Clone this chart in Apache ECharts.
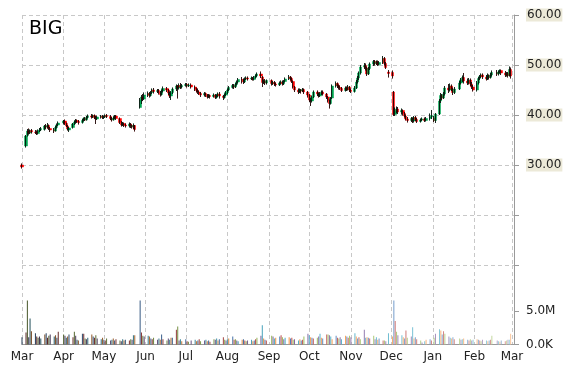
<!DOCTYPE html>
<html><head><meta charset="utf-8">
<script src="https://cdn.jsdelivr.net/npm/echarts@6/dist/echarts.min.js"></script>
<style>html,body{margin:0;padding:0;background:#fff}#c{width:570px;height:370px}</style>
</head><body><div id="c"></div>
<script>
const ticker = 'BIG';
const monthTicks = ['2013-03-01','2013-04-01','2013-05-01','2013-06-01','2013-07-01','2013-08-01','2013-09-01','2013-10-01','2013-11-01','2013-12-01','2014-01-01','2014-02-01','2014-03-01'];
const monthNames = ['Jan','Feb','Mar','Apr','May','Jun','Jul','Aug','Sep','Oct','Nov','Dec'];
const priceTicks = [30, 40, 50, 60];
const volumeTicks = [0, 5000000];
const holidays = ['2013-03-29','2013-05-27','2013-07-04','2013-09-02','2013-11-28','2013-12-25','2014-01-01','2014-01-20','2014-02-17'];

// [open, close, low, high]
const ohlcMar13 = [[30.0,29.6,29.3,30.3],[33.8,35.8,33.5,36.0],[35.9,36.8,35.7,37.2],[36.8,36.4,36.1,37.3],[36.4,36.9,36.2,37.1],[36.9,36.6,36.3,37.2],[36.6,36.5,36.2,37.0],[36.5,36.3,36.0,36.9],[36.3,36.8,36.1,37.1],[36.8,37.0,36.6,37.4],[37.0,37.3,36.8,37.6],[37.1,37.8,36.9,38.0],[37.8,37.6,37.2,38.2],[37.6,37.9,37.3,38.4],[37.9,37.3,37.0,38.1],[37.3,37.0,36.6,37.6],[37.0,36.8,36.4,37.4],[36.8,37.5,36.7,37.8],[37.5,38.0,37.3,38.3],[38.0,38.4,37.8,38.7]];
const ohlcApr13 = [[38.4,38.8,38.1,39.0],[38.8,38.3,38.0,39.1],[38.3,37.8,37.6,38.5],[37.8,37.2,36.9,38.0],[37.0,37.4,36.6,37.6],[37.5,38.2,37.3,38.4],[38.2,38.6,38.0,38.9],[38.6,38.9,38.3,39.2],[38.9,38.7,38.4,39.1],[38.7,38.5,38.1,39.0],[38.5,38.9,38.3,39.2],[38.9,39.3,38.7,39.5],[39.3,39.0,38.8,39.6],[39.0,39.5,38.9,39.8],[39.5,39.8,39.3,40.1],[39.8,39.6,39.3,40.2],[39.6,39.9,39.4,40.1],[39.9,39.5,39.2,40.1],[39.5,39.2,38.2,39.8],[39.2,39.6,39.0,39.9],[39.6,39.7,39.3,40.0],[39.7,39.5,39.2,40.0]];
const ohlcMay13 = [[39.5,39.6,39.2,39.9],[39.6,39.9,39.4,40.1],[39.9,39.7,39.4,40.2],[39.7,39.3,39.0,40.0],[39.3,39.0,38.7,39.6],[39.0,39.4,38.9,39.7],[39.4,39.8,39.2,40.0],[39.8,39.3,39.0,40.0],[39.3,38.5,38.2,39.5],[38.5,38.0,37.7,38.8],[38.0,38.3,37.8,38.6],[38.3,38.0,37.6,38.5],[38.0,37.8,37.5,38.3],[37.8,38.2,37.5,38.5],[38.2,37.9,37.4,38.4],[37.9,37.6,37.3,38.1],[37.6,37.9,37.2,38.3],[37.9,37.1,36.7,38.0],[41.5,43.0,41.3,43.4],[42.8,43.6,42.2,44.0],[43.6,43.2,42.8,44.2],[43.2,44.0,43.0,44.5]];
const ohlcJun13 = [[44.0,44.3,43.6,44.7],[44.3,43.9,43.5,44.6],[43.9,44.5,43.7,44.8],[44.5,45.0,44.2,45.3],[45.0,44.7,44.3,45.4],[44.7,44.9,44.4,45.2],[44.9,44.5,44.1,45.2],[44.5,44.1,43.7,44.8],[44.1,44.8,43.9,45.1],[44.8,45.3,44.5,45.7],[45.3,45.0,44.6,45.6],[45.0,44.4,44.0,45.2],[44.4,43.8,43.4,44.7],[43.8,44.5,43.0,44.8],[44.5,45.2,44.2,45.5],[45.2,45.8,44.8,46.1],[45.8,45.4,43.3,46.0],[45.4,45.9,45.1,46.3],[45.9,45.6,45.2,46.4],[45.6,45.9,45.3,46.2]];
const ohlcJul13 = [[45.9,46.1,45.7,46.4],[46.1,45.8,45.5,46.4],[45.8,46.0,45.6,46.3],[46.0,45.6,45.3,46.3],[45.6,45.2,44.8,45.9],[45.2,44.9,44.5,45.5],[44.9,44.6,44.2,45.3],[44.6,44.3,44.0,44.9],[44.3,44.0,43.6,44.6],[44.0,44.3,43.7,44.6],[44.3,44.0,43.6,44.5],[44.0,43.6,43.3,44.2],[43.6,43.9,43.4,44.2],[43.9,43.7,43.3,44.1],[43.7,44.0,43.5,44.3],[44.0,43.5,43.2,44.2],[43.5,43.8,43.3,44.1],[43.8,44.2,43.6,44.5],[44.2,43.8,43.3,44.6],[43.8,43.5,43.0,44.0],[43.5,44.0,43.3,44.3],[44.0,44.5,43.8,44.8]];
const ohlcAug13 = [[44.5,45.0,44.2,45.3],[45.0,45.5,44.8,45.8],[45.5,45.9,45.3,46.2],[45.9,45.6,45.2,46.2],[45.6,46.1,45.4,46.4],[46.1,46.6,45.9,46.9],[46.6,47.1,46.3,47.4],[47.1,47.0,46.3,47.6],[47.0,46.6,46.2,47.3],[46.6,47.2,46.4,47.5],[47.2,47.4,47.0,47.7],[47.4,47.2,46.9,47.7],[47.2,47.4,47.0,47.7],[47.4,47.1,46.9,47.6],[47.1,47.5,46.9,47.8],[47.5,47.8,47.3,48.1],[47.8,48.2,47.6,48.5],[48.2,47.8,47.4,48.7],[47.6,46.5,45.6,47.8],[46.5,46.8,46.2,47.1],[46.8,46.4,46.0,47.2],[46.4,46.9,46.1,47.1]];
const ohlcSep13 = [[46.9,46.3,45.9,47.1],[46.3,46.5,46.0,46.8],[46.5,46.2,45.8,46.8],[46.2,46.0,45.7,46.5],[46.0,46.4,45.8,46.7],[46.4,46.6,46.1,46.9],[46.6,46.2,45.9,46.9],[46.2,46.7,46.0,47.0],[46.7,47.2,46.5,47.5],[47.2,47.6,47.0,48.0],[47.6,47.3,46.9,47.8],[47.3,46.7,46.4,47.5],[46.7,45.6,45.3,46.9],[45.6,45.0,44.6,45.8],[45.0,44.6,44.2,45.3],[44.6,45.0,44.4,45.3],[45.0,44.8,44.3,45.2],[44.8,45.1,44.6,45.4],[45.1,44.6,44.2,45.3],[44.6,44.0,43.5,44.8]];
const ohlcOct13 = [[44.0,43.0,42.6,44.2],[43.0,42.8,41.8,43.4],[42.8,43.6,42.5,43.9],[43.6,44.6,43.4,44.9],[44.6,44.2,43.8,44.9],[44.2,43.8,43.5,44.5],[43.8,44.3,43.6,44.6],[44.3,44.6,44.0,44.9],[44.6,44.2,43.9,44.9],[44.2,43.6,43.2,44.4],[43.6,42.9,42.5,43.8],[42.9,42.3,41.3,43.1],[42.3,43.4,42.1,43.6],[43.4,45.8,43.2,46.1],[45.8,46.3,45.5,46.7],[46.3,45.9,45.4,46.5],[45.9,45.5,45.1,46.1],[45.5,45.3,45.0,45.9],[45.3,44.9,44.6,45.6],[44.9,45.4,44.7,45.7],[45.4,45.1,44.8,45.7],[45.1,45.6,44.9,46.0],[45.6,45.0,44.6,45.8]];
const ohlcNov13 = [[45.0,44.7,44.4,45.3],[44.7,45.4,44.5,45.8],[45.4,46.6,45.2,47.0],[46.6,47.4,46.3,47.8],[47.4,48.4,47.0,48.7],[48.4,49.6,48.1,50.0],[49.6,49.9,49.2,50.4],[49.9,49.4,48.9,50.3],[49.4,48.2,47.8,49.7],[48.2,49.3,48.0,49.6],[49.3,50.2,49.0,50.5],[50.2,50.7,49.8,51.0],[50.7,50.3,49.9,51.0],[50.3,50.6,50.0,50.9],[50.6,50.1,49.8,50.9],[50.1,50.5,49.9,50.8],[50.5,51.3,50.2,51.8],[51.3,50.3,49.9,51.6],[50.3,49.5,49.2,50.6],[48.6,48.3,47.5,49.0]];
const ohlcDec13 = [[48.5,47.8,47.3,48.9],[44.6,40.1,39.8,44.8],[40.1,40.9,39.8,41.5],[40.9,41.2,40.3,41.7],[41.2,40.6,40.2,41.6],[40.6,40.9,40.1,41.3],[40.9,40.3,39.9,41.1],[40.3,39.8,39.5,40.6],[39.8,39.2,38.9,40.1],[39.2,38.9,38.5,39.6],[38.9,39.3,38.6,39.6],[39.3,38.8,38.4,39.5],[38.8,39.5,38.5,39.8],[39.5,39.1,38.8,39.8],[39.1,38.7,38.4,39.4],[38.7,39.0,38.5,39.3],[39.0,39.2,38.8,39.5],[39.2,38.9,38.6,39.5],[38.9,39.3,38.7,39.6],[39.3,39.6,38.9,40.3],[39.6,39.9,39.2,41.0]];
const ohlcJan14 = [[39.4,38.9,38.6,39.8],[38.9,40.2,38.4,40.4],[40.2,42.8,40.0,43.2],[42.8,43.9,42.4,44.4],[43.9,43.4,43.0,44.2],[43.4,44.2,43.2,44.6],[44.2,45.4,43.9,45.8],[45.4,45.0,44.4,46.2],[45.0,45.8,44.7,46.3],[45.8,45.2,44.8,46.1],[45.2,44.5,44.0,45.5],[44.5,45.2,44.2,45.6],[45.2,46.4,45.0,46.8],[46.4,47.0,46.1,47.4],[47.0,47.5,46.6,47.9],[47.5,46.8,46.3,48.4],[46.8,46.4,46.0,47.3],[46.4,47.0,46.1,47.4],[47.0,46.2,45.8,47.3],[46.2,45.6,45.2,46.6],[45.6,45.0,44.7,46.0]];
const ohlcFeb14 = [[45.0,46.4,44.7,46.8],[46.4,47.3,46.1,47.6],[47.3,47.7,47.0,48.0],[47.7,48.0,47.4,48.3],[48.0,47.6,47.2,48.3],[47.6,47.2,46.9,48.0],[47.2,47.9,47.0,48.3],[47.9,47.5,47.1,48.1],[47.5,48.0,47.3,48.4],[48.0,48.5,47.7,48.9],[48.5,48.2,47.8,49.0],[48.2,48.6,47.9,48.9],[48.6,48.9,48.3,49.1],[48.9,48.4,48.0,49.1],[48.4,48.0,47.6,48.8],[48.0,48.3,47.7,48.6],[48.3,47.9,47.5,48.6],[47.9,49.1,47.7,49.7],[49.1,47.8,47.3,49.5]];

// volume, millions of shares
const volMar13 = [1.1,1.8,6.6,1.1,3.9,2.0,1.7,1.2,1.0,1.2,0.9,1.5,1.7,1.0,1.3,1.5,1.2,1.4,1.0,1.9];
const volApr13 = [1.5,1.3,1.0,1.2,1.5,1.1,1.9,1.3,0.7,0.6,1.6,1.6,0.9,0.8,1.0,1.5,1.2,1.0,1.4,0.9,0.8,1.0];
const volMay13 = [0.7,0.6,0.9,0.6,0.7,0.9,0.6,0.8,0.6,0.5,0.8,0.6,0.7,0.6,0.8,0.7,1.4,1.4,6.6,1.8,1.3,1.2];
const volJun13 = [1.3,1.2,0.9,0.8,1.0,0.7,0.9,0.7,1.5,0.8,0.6,0.9,0.7,1.0,1.0,2.2,2.7,0.6,0.8,0.5];
const volJul13 = [0.8,0.5,0.4,0.6,0.7,0.5,0.6,0.8,0.5,0.6,0.7,0.5,0.6,0.4,0.8,0.7,0.9,0.6,0.8,1.1,0.7,0.6];
const volAug13 = [0.8,0.9,1.2,0.7,0.8,0.6,0.5,0.7,0.8,0.6,0.5,0.6,0.7,0.5,0.6,0.8,1.0,1.3,2.9,0.9,0.7,0.6];
const volSep13 = [1.3,1.2,0.9,1.0,1.2,1.4,1.1,0.8,1.0,1.1,0.9,1.0,0.7,0.8,0.6,0.8,0.6,0.7,1.2,1.6];
const volOct13 = [1.4,1.1,1.0,0.9,1.0,1.2,1.6,1.0,0.9,1.5,1.5,1.4,1.2,0.8,1.3,1.0,0.9,1.1,0.8,1.3,1.2,1.0,1.3];
const volNov13 = [1.1,1.7,1.2,0.9,1.1,0.8,2.2,1.0,1.1,1.0,0.9,1.3,0.8,1.1,0.7,0.9,0.6,0.6,0.5,1.7];
const volDec13 = [1.2,6.6,3.5,1.9,1.4,1.4,1.1,0.9,2.1,1.0,1.2,2.6,0.9,1.1,0.8,0.6,0.3,0.5,0.7,0.8,0.6];
const volJan14 = [1.0,1.6,2.3,2.1,1.5,2.0,1.6,1.2,1.0,0.9,1.1,0.8,0.9,0.7,0.8,0.9,0.7,0.6,0.8,0.6,0.7];
const volFeb14 = [0.8,0.7,0.6,0.5,0.7,0.6,0.5,0.6,0.7,1.3,0.6,0.5,0.4,0.6,0.5,0.6,0.7,0.7,1.6];

const volumePalette = ['#4F81BD','#C0504D','#9BBB59','#8064A2','#4BACC6','#F79646'];

function ymd(d){ return d.getFullYear()+'-'+String(d.getMonth()+1).padStart(2,'0')+'-'+String(d.getDate()).padStart(2,'0'); }
function parseDay(s){ const p=s.split('-').map(Number); return new Date(p[0],p[1]-1,p[2]).getTime(); }
function tradingDays(from, to){
  const out=[]; const d=new Date(parseDay(from)); const end=parseDay(to);
  while(d.getTime()<=end){ const w=d.getDay(); if(w!==0&&w!==6&&holidays.indexOf(ymd(d))<0) out.push(d.getTime()); d.setDate(d.getDate()+1); }
  return out;
}
function shade(hex, f){
  let r=parseInt(hex.slice(1,3),16), g=parseInt(hex.slice(3,5),16), b=parseInt(hex.slice(5,7),16);
  if(f<0){ r=r*(1+f); g=g*(1+f); b=b*(1+f); } else { r=r+(255-r)*f; g=g+(255-g)*f; b=b+(255-b)*f; }
  return 'rgb('+Math.round(r)+','+Math.round(g)+','+Math.round(b)+')';
}

const days = tradingDays('2013-03-01','2014-02-28');
const ohlc = [].concat(ohlcMar13,ohlcApr13,ohlcMay13,ohlcJun13,ohlcJul13,ohlcAug13,ohlcSep13,ohlcOct13,ohlcNov13,ohlcDec13,ohlcJan14,ohlcFeb14);
const vols = [].concat(volMar13,volApr13,volMay13,volJun13,volJul13,volAug13,volSep13,volOct13,volNov13,volDec13,volJan14,volFeb14);

const candleData = days.map((t,i)=>[t].concat(ohlc[i]));
const volData = days.map((t,i)=>({
  value:[t, vols[i]*1e6],
  itemStyle:{color: shade(volumePalette[i%6], -0.55 + 1.0*i/(days.length-1))}
}));

const xMin = parseDay('2013-03-01');
const xMax = parseDay('2014-03-02') + 12*3600*1000;
const tickTimes = monthTicks.map(parseDay);
const font = 'DejaVu Sans';
const gridColor = '#c8c8c8';
const axisColor = '#9a9a9a';
const dash = {type:[4,3], color:gridColor, width:1};

const chart = echarts.init(document.getElementById('c'), null, {renderer:'canvas'});
chart.setOption({
  animation:false,
  backgroundColor:'#ffffff',
  title:{ text: ticker, left:29, top:20, padding:0, textStyle:{fontSize:19, fontWeight:'normal', color:'#000', fontFamily:font}},
  grid:[
    {left:22, right:56, top:15, height:250},
    {left:22, right:56, top:265, height:79.5}
  ],
  xAxis:[
    {gridIndex:0, type:'value', min:xMin, max:xMax, scale:true,
     axisLine:{show:false}, axisTick:{show:false, customValues:tickTimes}, axisLabel:{show:false, customValues:tickTimes},
     splitLine:{show:true, lineStyle:dash}},
    {gridIndex:1, type:'value', min:xMin, max:xMax, scale:true,
     axisLine:{show:true, onZero:false, lineStyle:{color:axisColor}}, axisTick:{show:false, customValues:tickTimes},
     axisLabel:{customValues:tickTimes, formatter:v=>monthNames[new Date(v).getMonth()], color:'#222', fontSize:12, fontFamily:font, margin:6, hideOverlap:false},
     splitLine:{show:true, lineStyle:dash}}
  ],
  yAxis:[
    {gridIndex:0, type:'value', position:'right', min:10, max:60, interval:10,
     axisLine:{show:true, lineStyle:{color:axisColor}},
     axisTick:{show:true, length:5, lineStyle:{color:axisColor}},
     axisLabel:{customValues:priceTicks, formatter:v=>v.toFixed(2), color:'#222', fontSize:12, fontFamily:font, margin:12, backgroundColor:'#ece9d8', padding:[1,1,0,1]},
     splitLine:{show:true, lineStyle:dash}},
    {gridIndex:1, type:'value', position:'right', min:0, max:11.9e6, interval:5e6,
     axisLine:{show:true, lineStyle:{color:axisColor}},
     axisTick:{show:true, length:5, customValues:volumeTicks, lineStyle:{color:axisColor}},
     axisLabel:{customValues:volumeTicks, formatter:v=>v===0?'0.0K':(v/1e6).toFixed(1)+'M', color:'#222', fontSize:12, fontFamily:font, margin:12},
     splitLine:{show:false}}
  ],
  series:[
    {type:'candlestick', name:'body', xAxisIndex:0, yAxisIndex:0, data:candleData, encode:{x:0, y:[1,2,3,4]}, barWidth:2.6,
     itemStyle:{color:'#00a651', color0:'#ff0000', borderColor:'#00a651', borderColor0:'#ff0000', borderWidth:0.5}},
    {type:'candlestick', name:'wick', xAxisIndex:0, yAxisIndex:0, data:candleData, encode:{x:0, y:[1,2,3,4]}, barWidth:0.8,
     itemStyle:{color:'#000', color0:'#000', borderColor:'#000', borderColor0:'#000', borderWidth:0.8}},
    {type:'bar', xAxisIndex:1, yAxisIndex:1, data:volData, barWidth:1}
  ]
});
</script></body></html>
